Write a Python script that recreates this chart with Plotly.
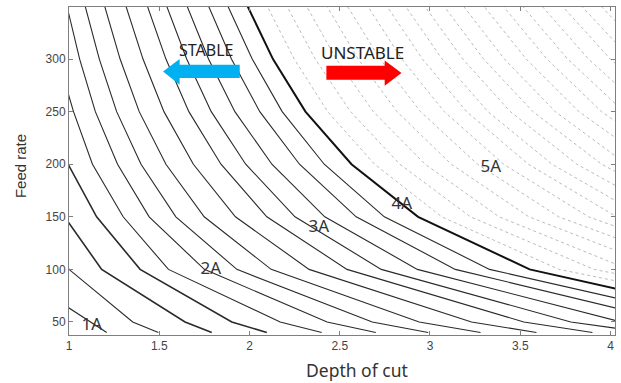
import plotly.graph_objects as go

# Feed-rate levels at which each contour line's depth of cut was read
feed_levels = [40, 50, 100, 150, 200, 250, 300, 350]

# Solid contour lines (stable region): depth of cut at each feed level
line_01 = [1.209, 1.12, 0.67, 0.55, 0.50, 0.45, 0.42, 0.40]
line_02 = [1.495, 1.353, 1.0, 0.825, 0.725, 0.655, 0.605, 0.565]
line_03 = [1.791, 1.643, 1.181, 0.975, 0.856, 0.774, 0.715, 0.667]
line_04 = [2.096, 1.902, 1.394, 1.153, 0.995, 0.913, 0.843, 0.788]
line_05 = [2.40, 2.17, 1.551, 1.30, 1.13, 1.025, 0.94, 0.876]
line_06 = [2.70, 2.43, 1.75, 1.444, 1.269, 1.146, 1.059, 0.989]
line_07 = [2.99, 2.68, 1.93, 1.592, 1.399, 1.264, 1.168, 1.090]
line_08 = [3.28, 2.94, 2.12, 1.749, 1.537, 1.389, 1.283, 1.198]
line_09 = [3.59, 3.23, 2.33, 1.922, 1.689, 1.526, 1.410, 1.316]
line_10 = [3.90, 3.52, 2.54, 2.096, 1.842, 1.664, 1.537, 1.435]
line_11 = [4.20, 3.78, 2.73, 2.252, 1.979, 1.788, 1.652, 1.542]
line_12 = [4.50, 4.06, 2.93, 2.417, 2.124, 1.919, 1.773, 1.655]
line_13 = [4.82, 4.35, 3.14, 2.591, 2.277, 2.057, 1.900, 1.774]
line_14 = [5.11, 4.61, 3.33, 2.747, 2.414, 2.181, 2.015, 1.881]
# Stability boundary (4A)
boundary_4A = [5.40, 4.85, 3.552, 2.934, 2.565, 2.31, 2.13, 1.99]

# Dashed contour lines (unstable region)
dash_01 = [5.72, 5.15, 3.715, 3.065, 2.693, 2.433, 2.248, 2.099]
dash_02 = [6.02, 5.41, 3.908, 3.224, 2.833, 2.560, 2.364, 2.208]
dash_03 = [6.31, 5.68, 4.10, 3.383, 2.973, 2.686, 2.481, 2.317]
dash_04 = [6.62, 5.96, 4.30, 3.548, 3.118, 2.817, 2.602, 2.430]
dash_05 = [6.93, 6.23, 4.50, 3.713, 3.263, 2.948, 2.723, 2.543]
dash_06 = [7.24, 6.51, 4.70, 3.878, 3.408, 3.079, 2.844, 2.656]
dash_07 = [7.53, 6.77, 4.89, 4.034, 3.545, 3.203, 2.958, 2.763]
dash_08 = [7.81, 7.02, 5.07, 4.183, 3.676, 3.321, 3.067, 2.865]
dash_09 = [8.10, 7.29, 5.26, 4.340, 3.814, 3.445, 3.182, 2.972]
dash_10 = [8.39, 7.55, 5.45, 4.496, 3.951, 3.570, 3.297, 3.079]
dash_11 = [8.69, 7.81, 5.64, 4.653, 4.089, 3.694, 3.412, 3.187]
dash_12 = [8.99, 8.09, 5.84, 4.818, 4.234, 3.825, 3.533, 3.300]
dash_13 = [9.29, 8.35, 6.03, 4.975, 4.372, 3.950, 3.648, 3.407]
dash_14 = [9.58, 8.61, 6.22, 5.132, 4.510, 4.074, 3.763, 3.514]
dash_15 = [9.87, 8.88, 6.41, 5.288, 4.647, 4.199, 3.878, 3.622]
dash_16 = [10.18, 9.15, 6.61, 5.453, 4.792, 4.330, 3.999, 3.735]
dash_17 = [10.47, 9.42, 6.80, 5.610, 4.930, 4.454, 4.114, 3.842]
dash_18 = [10.76, 9.68, 6.99, 5.767, 5.068, 4.578, 4.229, 3.949]

stable_lines = [line_01, line_02, line_03, line_04, line_05, line_06, line_07,
                line_08, line_09, line_10, line_11, line_12, line_13, line_14]
unstable_lines = [dash_01, dash_02, dash_03, dash_04, dash_05, dash_06, dash_07,
                  dash_08, dash_09, dash_10, dash_11, dash_12, dash_13, dash_14,
                  dash_15, dash_16, dash_17, dash_18]

# Contour labels
label_text = ["1A", "2A", "3A", "4A", "5A"]
label_x = [1.126, 1.786, 2.384, 2.844, 3.337]
label_y = [46.5, 99.7, 139.6, 161.5, 196.7]

x_ticks = [1, 1.5, 2, 2.5, 3, 3.5, 4]
x_tick_text = ["1", "1.5", "2", "2.5", "3", "3.5", "4"]
y_ticks = [50, 100, 150, 200, 250, 300]

fig = go.Figure()

for ln in unstable_lines:
    fig.add_trace(go.Scatter(x=ln, y=feed_levels, mode="lines",
                             line=dict(color="#a8a8a8", width=0.8, dash="3px,3px"),
                             hoverinfo="skip", showlegend=False))

for i, ln in enumerate(stable_lines):
    w = 1.6 if i in (2, 3) else 1.1
    fig.add_trace(go.Scatter(x=ln, y=feed_levels, mode="lines",
                             line=dict(color="#2a2a2a", width=w),
                             hoverinfo="skip", showlegend=False))

fig.add_trace(go.Scatter(x=boundary_4A, y=feed_levels, mode="lines",
                         line=dict(color="#111111", width=2),
                         hoverinfo="skip", showlegend=False))

fig.add_trace(go.Scatter(x=label_x, y=label_y, mode="text", text=label_text,
                         textfont=dict(family="Noto Sans", size=17, color="#333333"),
                         hoverinfo="skip", showlegend=False))

# Arrows
blue_arrow = ("M 1.521 288.2 L 1.613 300 L 1.613 294.6 L 1.946 294.6 "
              "L 1.946 282 L 1.613 282 L 1.613 275.6 Z")
red_arrow = ("M 2.842 286.7 L 2.749 298.7 L 2.749 293.6 L 2.426 293.6 "
             "L 2.426 280.3 L 2.749 280.3 L 2.749 274.6 Z")
fig.add_shape(type="path", path=blue_arrow, xref="x", yref="y",
              fillcolor="#00b0f0", line=dict(width=0))
fig.add_shape(type="path", path=red_arrow, xref="x", yref="y",
              fillcolor="#ff0000", line=dict(width=0))

fig.add_annotation(x=1.758, y=308.8, text="STABLE", showarrow=False,
                   font=dict(family="Noto Sans", size=16, color="#222222"))
fig.add_annotation(x=2.627, y=306, text="UNSTABLE", showarrow=False,
                   font=dict(family="Noto Sans", size=17, color="#222222"))

# Axis titles
fig.add_annotation(xref="paper", yref="paper", x=0.527, y=-0.107,
                   text="Depth of cut", showarrow=False,
                   xanchor="center", yanchor="middle",
                   font=dict(family="Noto Sans", size=17.5, color="#333333"))
fig.add_annotation(xref="paper", yref="paper", x=-0.0897, y=0.515,
                   text="Feed rate", showarrow=False, textangle=-90,
                   xanchor="center", yanchor="middle",
                   font=dict(family="Liberation Sans", size=15, color="#333333"))

axis_common = dict(showline=True, linecolor="#7f7f7f", linewidth=1, mirror="ticks",
                   ticks="inside", ticklen=4, tickcolor="#7f7f7f",
                   showgrid=False, zeroline=False, automargin=False,
                   tickfont=dict(family="Liberation Sans", size=12, color="#444444"))

fig.update_xaxes(range=[1, 4.025], tickvals=x_ticks, ticktext=x_tick_text,
                 **axis_common)
fig.update_yaxes(range=[37.6, 349.5], tickvals=y_ticks, **axis_common)

fig.update_layout(width=621, height=383,
                  margin=dict(l=69, r=6, t=7, b=48),
                  plot_bgcolor="white", paper_bgcolor="white")

fig.write_html("out.html",
               config={"displayModeBar": False},
               post_script="document.body.style.margin='0px';")
